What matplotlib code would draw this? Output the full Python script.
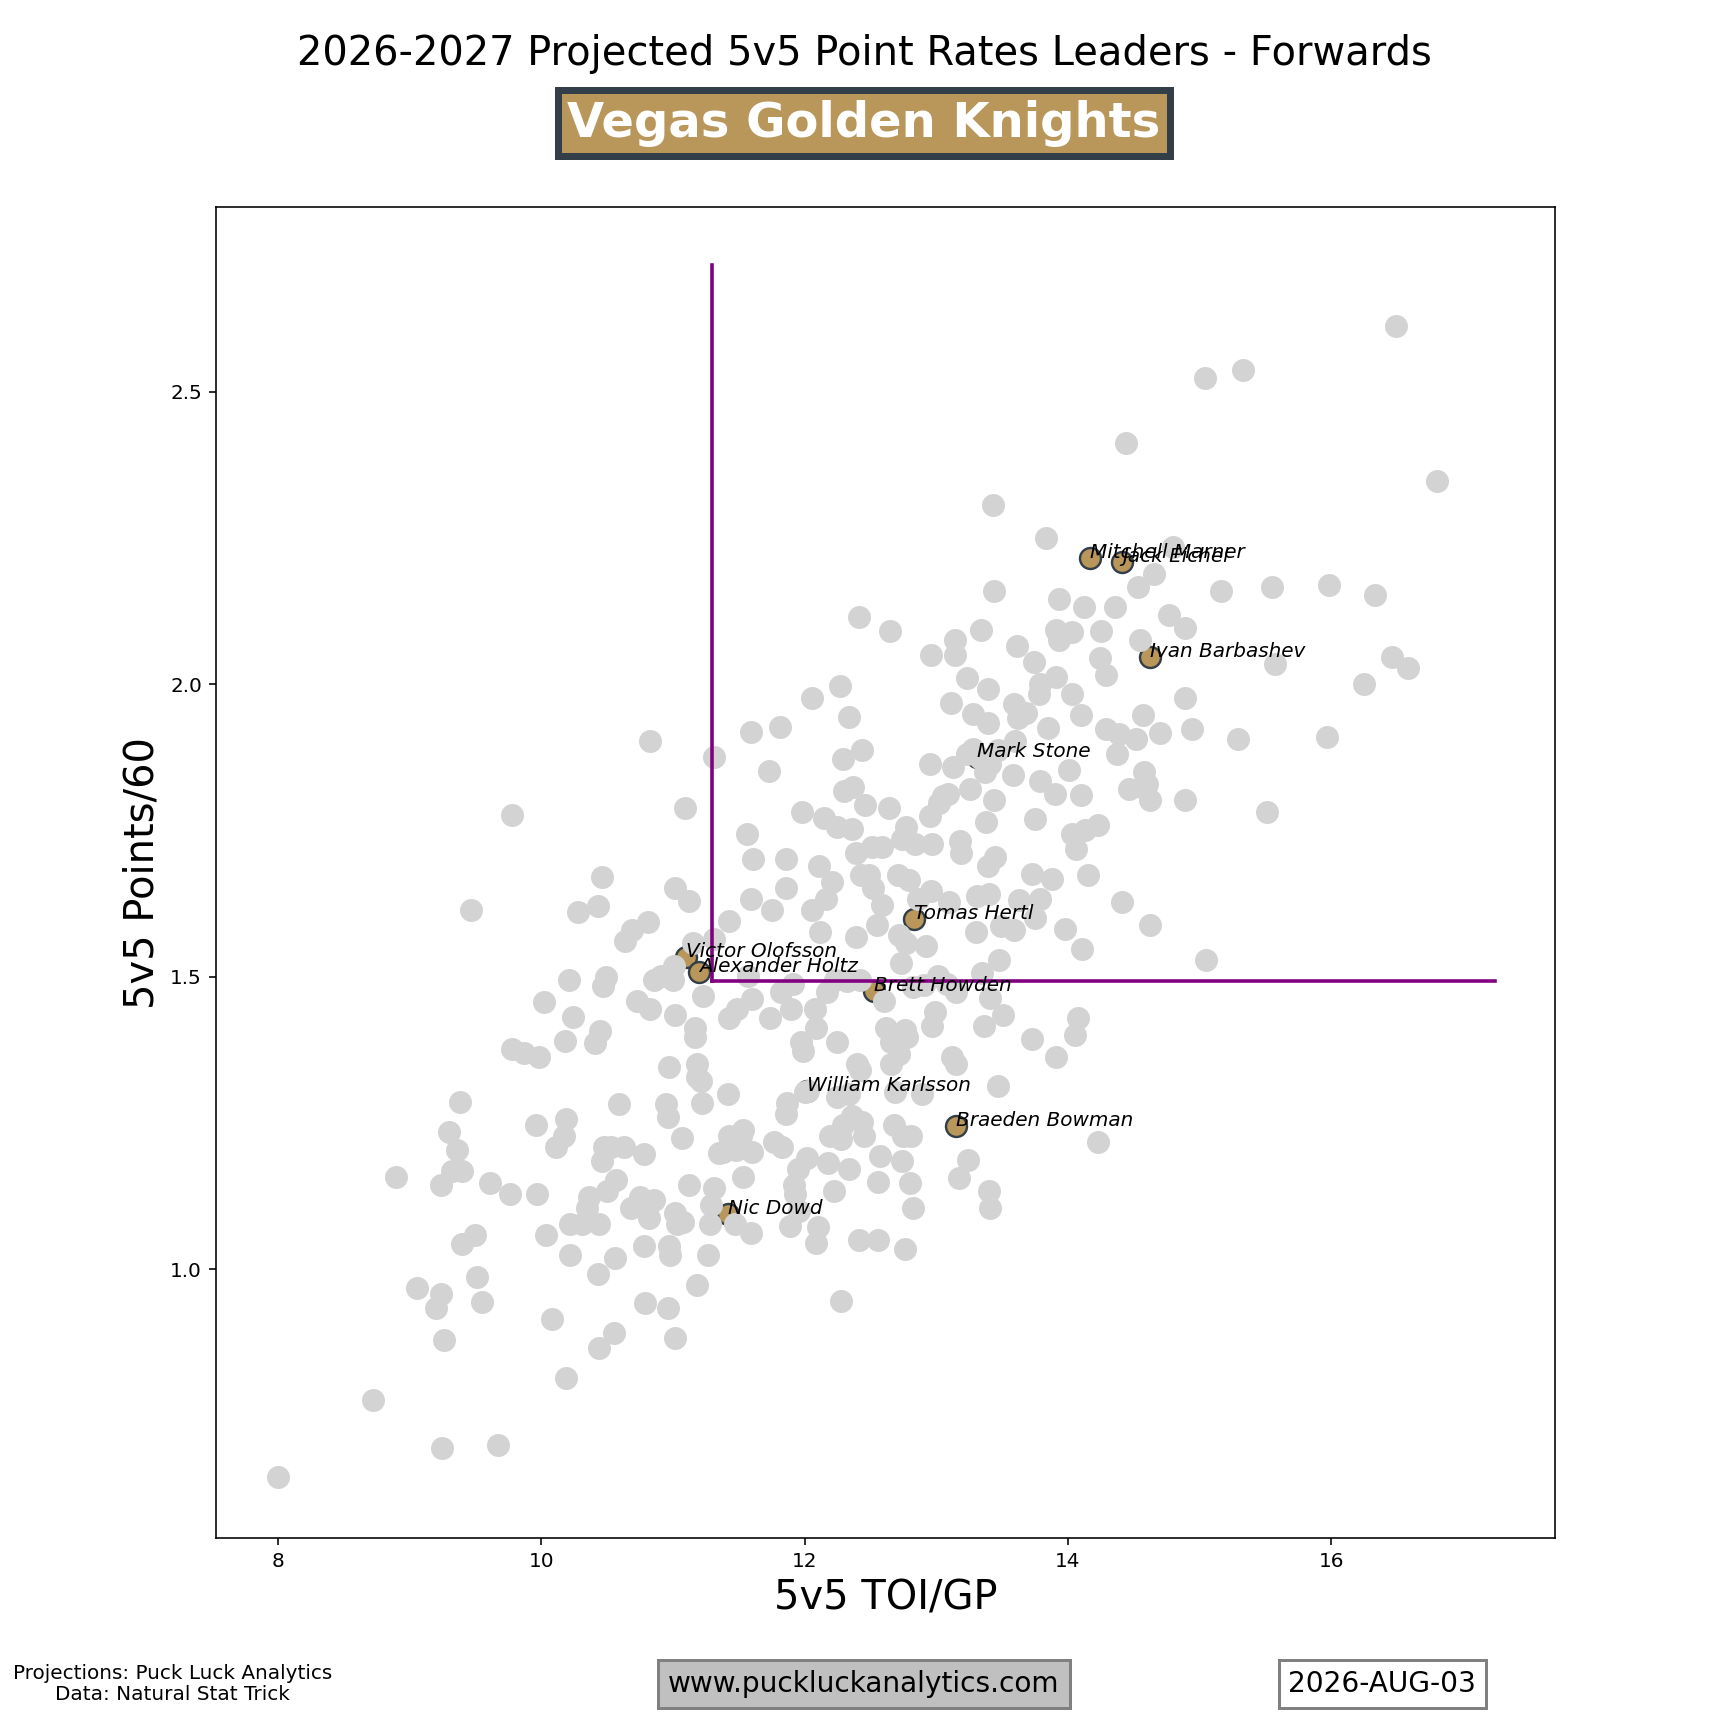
import matplotlib
matplotlib.use("Agg")
import matplotlib.pyplot as plt

# ---- league (gray) points: (5v5 TOI/GP, 5v5 Points/60) ----
league_toi = [
    8.00, 8.72, 9.25, 9.67, 8.90, 9.06, 9.20, 9.24, 9.26, 9.24, 9.30, 9.32, 9.36, 9.40, 9.38, 9.40,
    9.50, 9.51, 9.55, 9.61, 9.47, 9.78, 9.76, 9.78, 9.87, 9.98, 9.96, 9.97, 10.02, 10.04, 10.08, 10.11,
    10.17, 10.19, 10.18, 10.21, 10.24, 10.19, 10.22, 10.22, 10.28, 10.31, 10.35, 10.36, 10.41, 10.43,
    10.46, 10.44, 10.43, 10.44, 10.45, 10.47, 10.49, 10.46, 10.48, 10.50, 10.53, 10.55, 10.56, 10.59,
    10.57, 10.64, 10.63, 10.69, 10.73, 10.68, 10.78, 10.78, 10.79, 10.81, 10.83, 10.83, 10.75, 10.80,
    10.82, 10.86, 10.86, 10.91, 10.95, 10.96, 10.96, 10.97, 10.97, 10.98, 11.02, 11.02, 11.01, 11.00,
    11.02, 11.02, 11.03, 11.08, 11.07, 11.09, 11.12, 11.12, 11.15, 11.17, 11.17, 11.18, 11.18, 11.18,
    11.21, 11.22, 11.23, 11.27, 11.28, 11.29, 11.31, 11.31, 11.31,
    11.35, 11.38, 11.42, 11.43, 11.43, 11.43, 11.47, 11.48, 11.49, 11.52, 11.53, 11.53, 11.56, 11.57,
    11.59, 11.59, 11.59, 11.60, 11.60, 11.61, 11.73, 11.75, 11.74, 11.77, 11.81, 11.82, 11.83, 11.86,
    11.86, 11.86, 11.87, 11.89, 11.90, 11.91, 11.92, 11.93, 11.95, 11.96, 11.97, 11.99, 11.98,
    12.00, 12.02, 12.06, 12.06, 12.08, 12.09, 12.09, 12.10, 12.11, 12.12, 12.15, 12.16, 12.17, 12.18,
    12.19, 12.21, 12.22, 12.23, 12.25, 12.25, 12.27, 12.28, 12.28, 12.29, 12.25, 12.34,
    12.29, 12.30, 12.32, 12.34, 12.34, 12.36, 12.36, 12.37, 12.39, 12.39, 12.40, 12.41, 12.41, 12.42,
    12.42, 12.43, 12.44, 12.45, 12.44, 12.46, 12.51, 12.49, 12.52, 12.55, 12.56, 12.56, 12.57, 12.59,
    12.59, 12.60, 12.62, 12.64, 12.65, 12.66, 12.66, 12.68, 12.69, 12.71, 12.72, 12.72, 12.73, 12.74,
    12.74, 12.75, 12.76, 12.76, 12.77, 12.77, 12.78, 12.79, 12.80, 12.81, 12.82, 12.82, 12.84, 12.86,
    12.89, 12.91, 12.92, 12.95, 12.95, 12.96, 12.96, 12.97, 12.97, 12.99, 13.01, 13.02, 13.05, 13.08,
    13.09, 13.10, 13.11, 13.12, 13.13, 13.14, 13.14, 13.15, 13.15, 13.17, 13.18, 13.19, 13.23, 13.23,
    13.24, 13.26, 13.28, 13.28, 13.30, 13.31, 13.34, 13.35, 13.36, 13.37, 13.38, 13.39, 13.39, 13.39,
    13.40, 13.40, 13.41, 13.41, 13.41, 13.43, 13.44, 13.44, 13.45, 13.47, 13.48, 13.47, 13.49, 13.51,
    13.58, 13.59, 13.59, 13.60, 13.61, 13.62, 13.63, 13.68, 13.73, 13.73, 13.74, 13.75, 13.75, 13.78,
    13.79, 13.79, 13.79, 13.83, 13.85, 13.88, 13.90, 13.91, 13.91, 13.91, 13.93, 13.93, 13.98, 14.01,
    14.03, 14.03, 14.03, 14.05, 14.06, 14.08, 14.10, 14.10, 14.11, 14.12, 14.13, 14.15, 14.23, 14.24,
    14.25, 14.23, 14.29, 14.29, 14.36, 14.37, 14.39, 14.41, 14.44, 14.46, 14.52, 14.53, 14.55, 14.56,
    14.57, 14.58, 14.60, 14.62, 14.62, 14.65, 14.70, 14.77, 14.80, 14.89, 14.89, 14.94, 14.89, 15.04,
    15.05, 15.16, 15.29, 15.33, 15.51, 15.55, 15.57, 15.97, 15.98, 16.25, 16.33, 16.46, 16.49, 16.58,
    16.80, 13.33, 12.03,
]
league_pts = [
    0.644, 0.776, 0.695, 0.699, 1.158, 0.968, 0.934, 0.957, 0.879, 1.143, 1.235, 1.168, 1.203, 1.168, 1.286, 1.043,
    1.058, 0.987, 0.944, 1.147, 1.614, 1.776, 1.128, 1.377, 1.369, 1.363, 1.247, 1.128, 1.456, 1.058, 0.915, 1.209,
    1.228, 1.256, 1.390, 1.495, 1.431, 0.814, 1.024, 1.077, 1.610, 1.077, 1.104, 1.124, 1.386, 1.621,
    1.670, 1.077, 0.991, 0.866, 1.407, 1.484, 1.499, 1.185, 1.209, 1.134, 1.209, 0.891, 1.019, 1.282,
    1.153, 1.561, 1.209, 1.580, 1.458, 1.104, 1.196, 1.040, 0.942, 1.593, 1.902, 1.444, 1.124, 1.105,
    1.087, 1.119, 1.495, 1.501, 1.282, 0.934, 1.260, 1.345, 1.040, 1.024, 0.883, 1.652, 1.518, 1.495,
    1.435, 1.096, 1.077, 1.081, 1.224, 1.789, 1.629, 1.143, 1.557, 1.397, 1.412, 1.350, 1.328, 0.972,
    1.322, 1.284, 1.467, 1.024, 1.077, 1.109, 1.876, 1.139, 1.565,
    1.198, 1.200, 1.299, 1.595, 1.228, 1.429, 1.077, 1.203, 1.444, 1.228, 1.158, 1.237, 1.744, 1.501,
    1.633, 1.919, 1.062, 1.200, 1.461, 1.701, 1.851, 1.614, 1.429, 1.218, 1.927, 1.473, 1.209, 1.701,
    1.652, 1.266, 1.284, 1.073, 1.444, 1.488, 1.143, 1.128, 1.171, 1.100, 1.388, 1.373, 1.782,
    1.303, 1.190, 1.977, 1.614, 1.444, 1.412, 1.045, 1.072, 1.689, 1.576, 1.772, 1.633, 1.473, 1.181,
    1.228, 1.661, 1.134, 1.495, 1.388, 1.755, 1.996, 0.945, 1.222, 1.247, 1.295, 1.299,
    1.872, 1.817, 1.492, 1.944, 1.171, 1.262, 1.753, 1.825, 1.567, 1.712, 1.350, 1.049, 2.115, 1.495,
    1.341, 1.674, 1.252, 1.228, 1.887, 1.793, 1.721, 1.674, 1.652, 1.589, 1.049, 1.149, 1.194, 1.721,
    1.623, 1.458, 1.412, 1.789, 2.090, 1.388, 1.350, 1.247, 1.303, 1.674, 1.571, 1.367, 1.524, 1.185,
    1.736, 1.228, 1.034, 1.408, 1.755, 1.557, 1.397, 1.665, 1.147, 1.228, 1.105, 1.482, 1.727, 1.633,
    1.299, 1.486, 1.552, 1.864, 1.774, 2.049, 1.646, 1.727, 1.416, 1.439, 1.501, 1.797, 1.808, 1.488,
    1.812, 1.627, 1.968, 1.363, 1.859, 2.075, 2.049, 1.473, 1.350, 1.156, 1.731, 1.712, 2.011, 1.880,
    1.186, 1.821, 1.949, 1.889, 1.576, 1.637, 2.092, 1.507, 1.416, 1.849, 1.765, 1.991, 1.934, 1.689,
    1.642, 1.134, 1.104, 1.864, 1.463, 2.307, 2.160, 1.802, 1.704, 1.313, 1.529, 1.887, 1.586, 1.435,
    1.844, 1.966, 1.580, 1.902, 2.066, 1.942, 1.631, 1.951, 1.676, 1.394, 2.038, 1.601, 1.770, 1.983,
    2.000, 1.834, 1.633, 2.249, 1.925, 1.667, 1.812, 2.013, 1.363, 2.092, 2.145, 2.075, 1.582, 1.853,
    1.983, 1.744, 2.089, 1.401, 1.719, 1.429, 1.947, 1.810, 1.548, 2.132, 1.750, 1.674, 1.759, 2.045,
    2.090, 1.218, 2.015, 1.923, 2.132, 1.881, 1.915, 1.627, 2.412, 1.821, 1.906, 2.166, 2.075, 1.825,
    1.947, 1.849, 1.830, 1.802, 1.589, 2.188, 1.917, 2.119, 2.234, 2.096, 1.976, 1.923, 1.802, 2.524,
    1.529, 2.160, 1.906, 2.537, 1.782, 2.166, 2.034, 1.910, 2.169, 2.000, 2.153, 2.047, 2.612, 2.028,
    2.348, 1.874, 1.305,
]

# ---- team (Vegas) forwards ----
team_names = ["Mitchell Marner", "Jack Eichel", "Ivan Barbashev", "Mark Stone", "Tomas Hertl",
              "Victor Olofsson", "Alexander Holtz", "Brett Howden", "William Karlsson",
              "Braeden Bowman", "Nic Dowd"]
team_toi = [14.17, 14.41, 14.62, 13.31, 12.83, 11.10, 11.20, 12.53, 12.02, 13.15, 11.42]
team_pts = [2.215, 2.209, 2.047, 1.876, 1.599, 1.533, 1.508, 1.476, 1.305, 1.245, 1.094]

# reference lines (thresholds and their extents)
toi_threshold = 11.30
pts_threshold = 1.493
vline_top = 2.716
hline_right = 17.24

title_text = "2026-2027 Projected 5v5 Point Rates Leaders - Forwards"
team_text = "Vegas Golden Knights"
credit_text = "Projections: Puck Luck Analytics\nData: Natural Stat Trick"
site_text = "www.puckluckanalytics.com"
date_text = "2026-AUG-03"

GOLD = "#B9975B"
STEEL = "#333F48"

fig = plt.figure(figsize=(12, 12), dpi=144)
ax = fig.add_axes([0.125, 0.11, 0.775, 0.77])

ax.scatter(team_toi, team_pts, s=110, color=GOLD, edgecolor=STEEL, linewidth=1.2, zorder=2)
ax.scatter(league_toi, league_pts, s=110, color="lightgray", zorder=3)

ax.plot([toi_threshold, toi_threshold], [pts_threshold, vline_top], color="purple", lw=1.8, zorder=4)
ax.plot([toi_threshold, hline_right], [pts_threshold, pts_threshold], color="purple", lw=1.8, zorder=4)

for n, x, y in zip(team_names, team_toi, team_pts):
    ax.text(x, y, n, fontsize=10, style="italic", zorder=6)

ax.set_xlim(7.531, 17.70)
ax.set_ylim(0.5405, 2.815)
ax.set_xticks([8, 10, 12, 14, 16])
ax.set_yticks([1.0, 1.5, 2.0, 2.5])
ax.set_xlabel("5v5 TOI/GP", fontsize=20)
ax.set_ylabel("5v5 Points/60", fontsize=20)

fig.text(0.5, 0.969, title_text, ha="center", va="center", fontsize=20)
fig.text(0.5, 0.9286, team_text, ha="center", va="center", fontsize=24, fontweight="bold",
         color="white",
         bbox=dict(boxstyle="square,pad=0.2", facecolor=GOLD, edgecolor=STEEL, linewidth=3.5))

fig.text(0.1, 0.0255, credit_text, ha="center", va="center", fontsize=10, linespacing=1.1)
fig.text(0.5, 0.0255, site_text, ha="center", va="center", fontsize=14,
         bbox=dict(boxstyle="square,pad=0.35", facecolor="#C0C0C0", edgecolor="gray", linewidth=1.5))
fig.text(0.8, 0.0255, date_text, ha="center", va="center", fontsize=14,
         bbox=dict(boxstyle="square,pad=0.35", facecolor="white", edgecolor="gray", linewidth=1.5))

fig.savefig("out.png", dpi=144)
